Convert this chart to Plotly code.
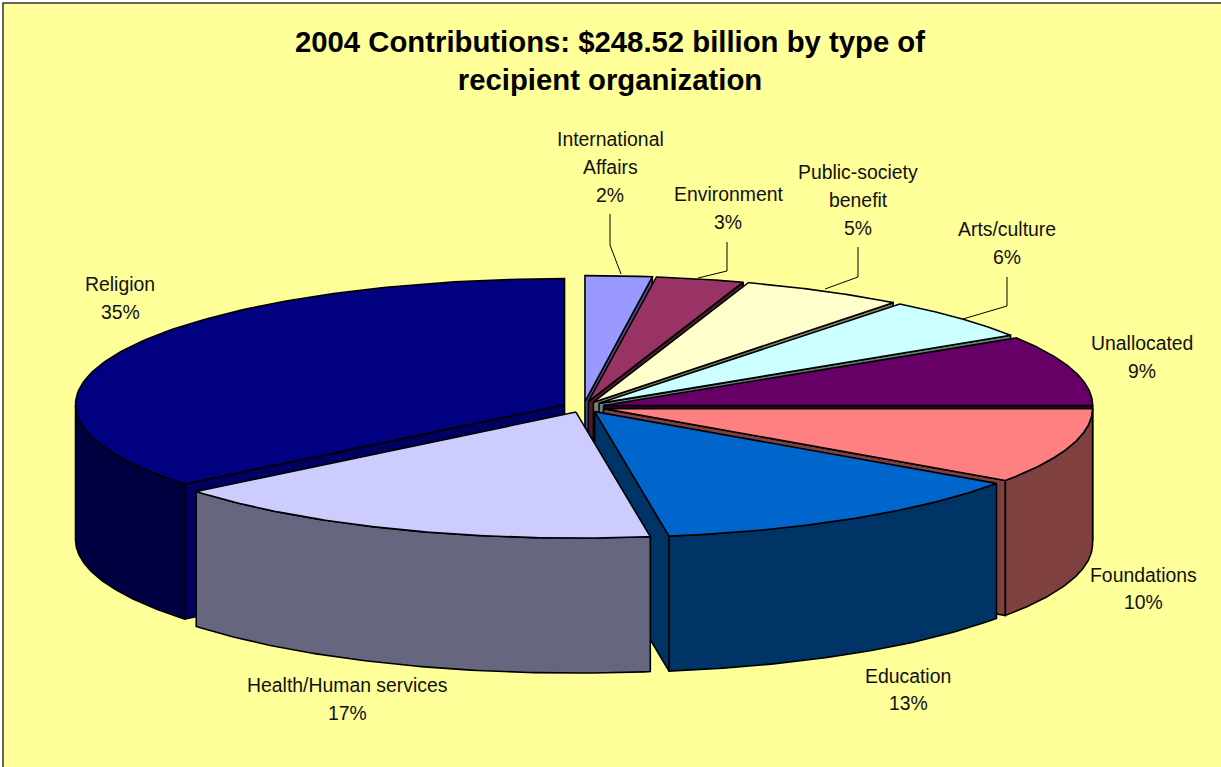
import numpy as np
import plotly.graph_objects as go

# --- data ---
categories = ["International Affairs", "Environment", "Public-society benefit", "Arts/culture",
              "Unallocated", "Foundations", "Education", "Health/Human services", "Religion"]
printed_percent = ["2%", "3%", "5%", "6%", "9%", "10%", "13%", "17%", "35%"]
shares = [2.2, 2.93, 5.37, 5.42, 9.08, 9.65, 12.92, 16.58, 35.85]

# --- styles ---
top_colors = ["#9999FF", "#993366", "#FFFFCC", "#CCFFFF", "#660066", "#FF8080", "#0066CC", "#CCCCFF", "#000080"]
rim_colors = ["#4D4D80", "#4D1A33", "#808066", "#668080", "#330033", "#804040", "#003366", "#666680", "#000040"]
wall_colors = ["#4D4D80", "#4D1A33", "#808066", "#668080", "#330033", "#804040", "#003366", "#666680", "#000060"]
paint_order = [8, 0, 1, 2, 3, 4, 5, 6, 7]

# --- pie geometry (pixel-scaled axes) ---
CX, CY, RX, RY, DEPTH, EXPLODE = 583.5, 407, 489, 126, 135, 0.043
W, H = 1221, 767

label_lines = {
    "International Affairs": (610, [139, 167, 195], ["International", "Affairs"]),
    "Environment": (728, [194, 222], ["Environment"]),
    "Public-society benefit": (858, [172, 200, 228], ["Public-society", "benefit"]),
    "Arts/culture": (1007, [229, 257], ["Arts/culture"]),
    "Unallocated": (1142, [343, 371], ["Unallocated"]),
    "Foundations": (1143, [575, 602], ["Foundations"]),
    "Education": (908, [676, 703], ["Education"]),
    "Health/Human services": (347, [685, 713], ["Health/Human services"]),
    "Religion": (120, [284, 312], ["Religion"]),
}
leaders = [
    [(610, 214), (610, 245), (621, 274)],
    [(727, 242), (727, 271), (698, 278)],
    [(858, 247), (858, 277), (825, 289)],
    [(1007, 277), (1007, 306), (963, 319)],
]

fig = go.Figure()
edges = np.cumsum([0] + shares) / sum(shares) * 2 * np.pi


def add_poly(xs, ys, color, name):
    fig.add_trace(go.Scatter(
        x=list(xs) + [xs[0]], y=list(ys) + [ys[0]], mode="lines", fill="toself",
        fillcolor=color, line=dict(color="black", width=1.6), name=name,
        hoverinfo="name", showlegend=False))


for i in paint_order:
    a, b = edges[i], edges[i + 1]
    m = (a + b) / 2
    tx = CX + EXPLODE * RX * np.sin(m)
    ty = CY - EXPLODE * RY * np.cos(m)

    def rim_point(t):
        return tx + RX * np.sin(t), ty - RY * np.cos(t)

    # radial walls that face the viewer
    if np.sin(a) < -1e-6:
        px, py = rim_point(a)
        add_poly([tx, px, px, tx], [ty, py, py + DEPTH, ty + DEPTH], wall_colors[i], categories[i])
    if np.sin(b) > 1e-6:
        px, py = rim_point(b)
        add_poly([tx, px, px, tx], [ty, py, py + DEPTH, ty + DEPTH], wall_colors[i], categories[i])

    # outer rim: the part of the arc on the near half of the ellipse
    lo, hi = max(a, np.pi / 2), min(b, 3 * np.pi / 2)
    if hi > lo:
        t = np.linspace(lo, hi, 80)
        rx_, ry_ = rim_point(t)
        add_poly(np.r_[rx_, rx_[::-1]], np.r_[ry_, ry_[::-1] + DEPTH], rim_colors[i], categories[i])

    # top face
    t = np.linspace(a, b, 120)
    ax_, ay_ = rim_point(t)
    add_poly(np.r_[tx, ax_], np.r_[ty, ay_], top_colors[i], categories[i])

annotations = []
for cat, pct in zip(categories, printed_percent):
    x, ys, words = label_lines[cat]
    for text, y in zip(words + [pct], ys):
        annotations.append(dict(x=x, y=y, xref="x", yref="y", text=text, showarrow=False,
                                xanchor="center", yanchor="middle",
                                font=dict(family="Liberation Sans, Arial, sans-serif", size=19.4, color="#111111")))

shapes = [dict(type="rect", xref="x", yref="y", x0=3, y0=3, x1=W + 20, y1=H + 20,
               fillcolor="#FFFF99", line=dict(color="#333333", width=1.5), layer="below")]
for pts in leaders:
    path = "M " + " L ".join(f"{x} {y}" for x, y in pts)
    shapes.append(dict(type="path", xref="x", yref="y", path=path, line=dict(color="black", width=1), layer="above"))

fig.update_layout(
    width=W, height=H, margin=dict(l=0, r=0, t=0, b=0),
    paper_bgcolor="white", plot_bgcolor="white", showlegend=False,
    title=dict(text="2004 Contributions: $248.52 billion by type of<br>recipient organization",
               x=610 / W, xanchor="center", y=1 - 51.5 / H, yanchor="middle",
               font=dict(family="Liberation Sans, Arial, sans-serif", size=29.3, color="black", weight="bold")),
    xaxis=dict(range=[0, W], visible=False, fixedrange=True),
    yaxis=dict(range=[H, 0], visible=False, fixedrange=True),
    shapes=shapes, annotations=annotations,
)

fig.write_html("out.html", config={"displayModeBar": False},
               post_script="document.body.style.margin='0';document.body.style.overflow='hidden';")
